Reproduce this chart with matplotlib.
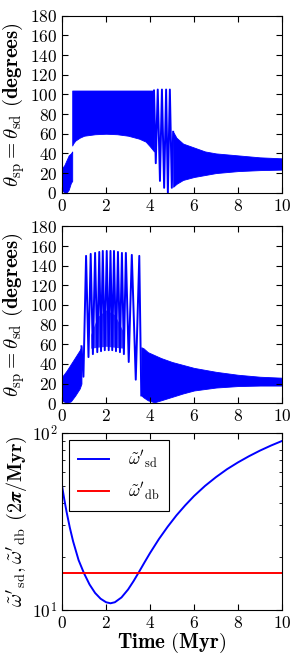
import numpy as np
import matplotlib
matplotlib.use('Agg')
import matplotlib.pyplot as plt
from matplotlib.ticker import FuncFormatter, MultipleLocator, NullFormatter

plt.rcParams['mathtext.fontset'] = 'cm'
plt.rcParams['font.family'] = 'serif'
plt.rcParams['font.serif'] = ['cmr10', 'DejaVu Serif']
plt.rcParams['axes.formatter.use_mathtext'] = True

# ---- panel 1: dense oscillation envelopes and resolved spikes ----
p1_band_a_t = [0, 0.1, 0.2, 0.3, 0.4, 0.46]
p1_band_a_hi = [25, 28, 33, 38, 40, 42]
p1_band_a_lo = [3, 0, 0, 3, 10, 12]

p1_band_b_t = [0.46, 0.5, 0.6, 0.8, 1.0, 1.5, 2.0, 2.5, 3.0, 3.5, 3.8, 4.0, 4.18]
p1_band_b_hi = [104, 104, 104, 104, 104, 104, 104, 104, 104, 104, 104, 104, 104]
p1_band_b_lo = [48, 50, 53, 56, 58, 59.5, 60, 59.5, 58, 55, 52, 47, 42]

p1_spike_t = [4.18, 4.26, 4.35, 4.45, 4.54, 4.64, 4.73, 4.81, 4.9, 4.99, 5.05]
p1_spike_v = [104, 30, 105, 12, 105, 5, 105, 0, 105, 5, 62]

p1_band_c_t = [5.05, 5.2, 5.5, 6, 6.5, 7, 8, 9, 10]
p1_band_c_hi = [62, 56, 50, 46, 42, 40, 38, 36, 35]
p1_band_c_lo = [6, 9, 13, 16, 18, 20, 22, 23, 23.5]

# ---- panel 2 ----
p2_band_a_t = [0, 0.2, 0.4, 0.6, 0.8, 0.88]
p2_band_a_hi = [27, 33, 40, 47, 54, 58]
p2_band_a_lo = [3, 0, 2, 8, 15, 20]

p2_spike_t = [0.88, 0.97, 1.09, 1.2, 1.3, 1.4, 1.5, 1.6, 1.69, 1.77, 1.85, 1.94,
              2.03, 2.12, 2.2, 2.28, 2.36, 2.45, 2.54, 2.63, 2.72, 2.81, 2.9,
              3.03, 3.17, 3.35, 3.51, 3.6]
p2_spike_v = [58, 27, 150, 47, 152, 50, 153, 52, 154, 53, 155, 54,
              155, 54, 155, 54, 155, 53, 154, 52, 153, 50, 153,
              42, 151, 24, 150, 8]

p2_core_t = [1.3, 1.6, 2.0, 2.4, 2.8]
p2_core_hi = [70, 88, 95, 90, 72]
p2_core_lo = [56, 57, 58, 57, 56]

p2_band_b_t = [3.6, 3.7, 3.9, 4.2, 4.5, 5, 5.5, 6, 7, 8, 9, 10]
p2_band_b_hi = [57, 56, 52, 49, 46, 42, 39, 36, 32, 29, 27, 26]
p2_band_b_lo = [8, 6, 3, 1, 3, 6.5, 10, 13, 16, 17.5, 18, 18]

# ---- panel 3: precession frequencies ----
time_sd = [0, 0.1, 0.2, 0.35, 0.5, 0.75, 1.0, 1.25, 1.5, 1.75, 2.0, 2.2, 2.4, 2.7,
           3.0, 3.25, 3.5, 3.75, 4.0, 4.4, 4.8, 5.2, 5.6, 6.0, 6.5, 7.0, 7.5,
           8.0, 8.5, 9.0, 9.5, 10]
omega_sd = [50, 42.1, 36.0, 29.2, 24.4, 19.1, 16.06, 13.9, 12.46, 11.56, 11.04, 10.89,
            11.04, 11.75, 13.03, 14.54, 16.4, 18.57, 20.96, 25.1, 29.5, 34.2, 39.0,
            44.0, 50.2, 56.3, 62.4, 68.2, 73.9, 79.5, 84.9, 90.1]
omega_db = 16.2

deg_label = r'$\theta_{\rm sp}=\theta_{\rm sd}$ $\mathbf{(degrees)}$'


def style_axis(ax):
    ax.tick_params(direction='in', top=True, right=True, length=4, labelsize=12.5)
    ax.tick_params(which='minor', direction='in', top=True, right=True, length=2)
    ax.set_xlim(0, 10)
    ax.xaxis.set_major_locator(MultipleLocator(2))
    ax.xaxis.set_major_formatter(FuncFormatter(lambda v, p: r'$%d$' % v))


def draw_theta(ax, bands, spikes):
    for t, hi, lo in bands:
        ax.fill_between(t, lo, hi, color='blue', lw=0.6, edgecolor='blue')
    for t, v in spikes:
        ax.plot(t, v, color='blue', lw=1.4)
    style_axis(ax)
    ax.set_ylim(0, 180)
    ax.yaxis.set_major_locator(MultipleLocator(20))
    ax.yaxis.set_major_formatter(FuncFormatter(lambda v, p: r'$%d$' % v))
    ax.set_ylabel(deg_label, fontsize=15, labelpad=2)


fig = plt.figure(figsize=(3.0, 6.6), dpi=100)
ax1 = fig.add_axes([0.207, 0.708, 0.733, 0.268])
ax2 = fig.add_axes([0.207, 0.389, 0.733, 0.268])
ax3 = fig.add_axes([0.207, 0.076, 0.733, 0.268])

draw_theta(ax1,
           [(p1_band_a_t, p1_band_a_hi, p1_band_a_lo),
            (p1_band_b_t, p1_band_b_hi, p1_band_b_lo),
            (p1_band_c_t, p1_band_c_hi, p1_band_c_lo)],
           [(p1_spike_t, p1_spike_v)])

draw_theta(ax2,
           [(p2_band_a_t, p2_band_a_hi, p2_band_a_lo),
            (p2_band_b_t, p2_band_b_hi, p2_band_b_lo)],
           [(p2_spike_t, p2_spike_v)])
ax2.fill_between(p2_core_t, p2_core_lo, p2_core_hi, color='blue', alpha=0.75, lw=0)

ax3.plot(time_sd, omega_sd, color='blue', lw=1.4, label=r"$\tilde{\omega}'_{\rm sd}$")
ax3.plot([0, 10], [omega_db, omega_db], color='red', lw=1.4, label=r"$\tilde{\omega}'_{\rm db}$")
ax3.set_yscale('log')
style_axis(ax3)
ax3.set_ylim(10, 100)
ax3.yaxis.set_major_formatter(FuncFormatter(lambda v, p: r'$10^{%d}$' % round(np.log10(v))))
ax3.yaxis.set_minor_formatter(NullFormatter())
ax3.set_ylabel(r"$\tilde{\omega}'_{\rm sd},\tilde{\omega}'_{\rm db}$ $\mathbf{(2}\boldsymbol{\pi}\mathbf{/Myr)}$",
               fontsize=14.5, labelpad=2)
ax3.set_xlabel(r'$\mathbf{Time\ (Myr)}$', fontsize=15, labelpad=0)
leg = ax3.legend(loc='upper left', fontsize=12.5, fancybox=False, edgecolor='black',
                 framealpha=1, borderpad=0.5, handlelength=1.8, handletextpad=1.1,
                 labelspacing=0.6, borderaxespad=0.4)
leg.get_frame().set_linewidth(0.8)

fig.savefig('out.png', dpi=100)
